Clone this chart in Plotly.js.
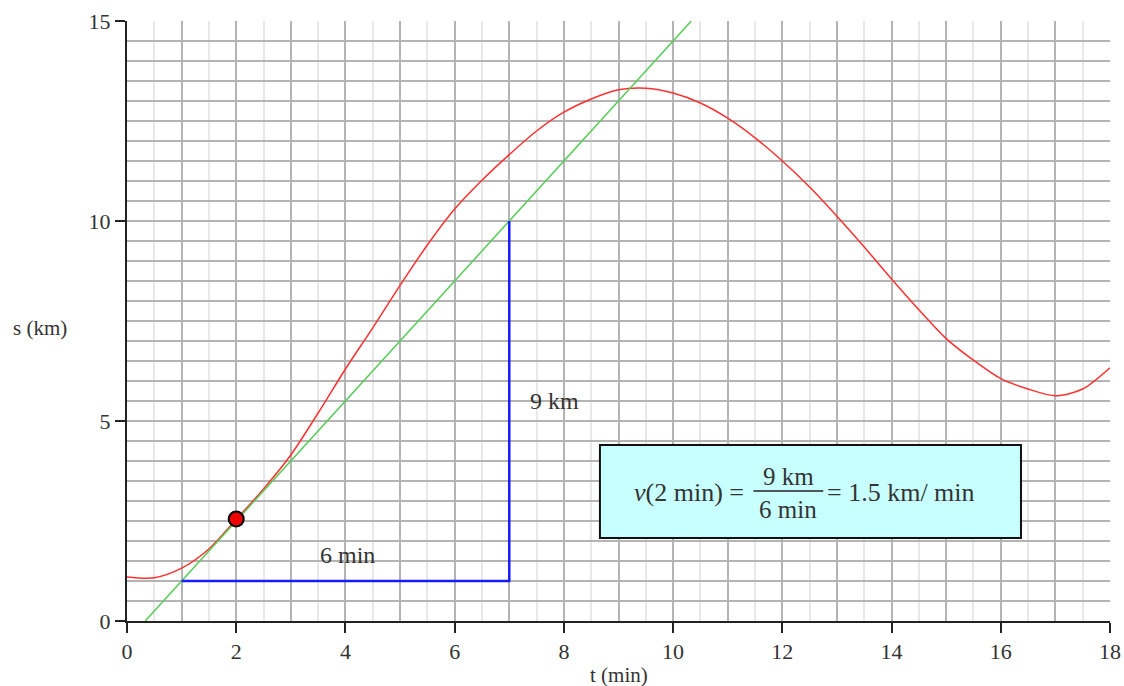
<!DOCTYPE html>
<html>
<head>
<meta charset="utf-8">
<script src="https://cdn.plot.ly/plotly-3.0.1.min.js"></script>
<style>html,body{margin:0;padding:0;background:#fff;}#chart{width:1124px;height:686px;}</style>
</head>
<body>
<div id="chart"></div>
<script>
// Position-time curve s(t)
const tValues = [0, 0.5, 1, 1.5, 2, 2.5, 3, 3.5, 4, 4.5, 5, 5.5, 6, 6.5, 7, 7.5, 8, 8.5, 9, 9.5, 10, 10.5, 11, 11.5, 12, 12.5, 13, 13.5, 14, 14.5, 15, 15.5, 16, 16.5, 17, 17.5, 18];
const sValues = [1.1, 1.08, 1.32, 1.8, 2.54, 3.3, 4.15, 5.2, 6.3, 7.33, 8.39, 9.4, 10.3, 11.02, 11.66, 12.25, 12.72, 13.05, 13.28, 13.32, 13.2, 12.95, 12.57, 12.08, 11.5, 10.85, 10.12, 9.35, 8.55, 7.78, 7.06, 6.52, 6.06, 5.8, 5.63, 5.8, 6.33];

// Tangent line at t = 2 min
const tangentT = [0.333, 10.333];
const tangentS = [0, 15];

// Slope triangle (6 min run, 9 km rise)
const triangleT = [1, 7, 7];
const triangleS = [1, 1, 10];

// Point of tangency
const pointT = [2];
const pointS = [2.55];

// Labels
const runLabel = '6 min';
const riseLabel = '9 km';
const xTitle = 't (min)';
const yTitle = 's (km)';

const serif = 'Liberation Serif';
const textColor = '#333';
const gridDark = '#b4b4b4';
const gridLight = '#e8e8e8';

const traces = [
  {x: [], y: [], xaxis: 'x2', yaxis: 'y2', type: 'scatter', mode: 'lines', hoverinfo: 'skip'},
  {x: tValues, y: sValues, type: 'scatter', mode: 'lines', line: {color: '#ff3030', width: 1.5, shape: 'spline', smoothing: 0.8}, hoverinfo: 'skip'},
  {x: tangentT, y: tangentS, type: 'scatter', mode: 'lines', line: {color: '#55cc55', width: 1.5}, hoverinfo: 'skip'},
  {x: triangleT, y: triangleS, type: 'scatter', mode: 'lines', line: {color: '#1a1aff', width: 2.5}, hoverinfo: 'skip'},
  {x: pointT, y: pointS, type: 'scatter', mode: 'markers', marker: {color: '#ee0000', size: 15, line: {color: '#000', width: 2}}, hoverinfo: 'skip'}
];

const layout = {
  width: 1124, height: 686,
  margin: {l: 127, r: 14, t: 21, b: 65},
  paper_bgcolor: '#fff', plot_bgcolor: '#fff',
  showlegend: false,
  font: {family: serif, size: 22, color: textColor},
  xaxis: {
    range: [0, 18], tickmode: 'linear', tick0: 0, dtick: 2,
    showgrid: true, gridcolor: gridDark, gridwidth: 2,
    minor: {dtick: 0.5, tick0: 0, showgrid: true, gridcolor: gridLight, gridwidth: 2, ticks: ''},
    zeroline: false, showline: true, linecolor: '#222', linewidth: 2,
    ticks: 'outside', ticklen: 10, tickwidth: 2, tickcolor: '#222',
    tickfont: {family: serif, size: 22, color: textColor}, fixedrange: true
  },
  xaxis2: {
    range: [0, 18], overlaying: 'x', anchor: 'y2', tickmode: 'linear', tick0: 0, dtick: 1,
    showgrid: true, gridcolor: gridDark, gridwidth: 2,
    showticklabels: false, ticks: '', zeroline: false, showline: false, fixedrange: true
  },
  yaxis: {
    range: [0, 15], tickmode: 'linear', tick0: 0, dtick: 5,
    showgrid: true, gridcolor: gridDark, gridwidth: 2,
    zeroline: false, showline: true, linecolor: '#222', linewidth: 2,
    ticks: 'outside', ticklen: 10, tickwidth: 2, tickcolor: '#222',
    tickfont: {family: serif, size: 22, color: textColor}, fixedrange: true
  },
  yaxis2: {
    range: [0, 15], overlaying: 'y', anchor: 'x2', tickmode: 'linear', tick0: 0, dtick: 0.5,
    showgrid: true, gridcolor: gridDark, gridwidth: 2,
    showticklabels: false, ticks: '', zeroline: false, showline: false, fixedrange: true
  },
  shapes: [
    {type: 'rect', xref: 'x', yref: 'y', x0: 8.66, x1: 16.37, y0: 2.075, y1: 4.4,
     fillcolor: '#c8ffff', line: {color: '#111', width: 2}, layer: 'above'},
    {type: 'line', xref: 'x', yref: 'y', x0: 11.47, x1: 12.75, y0: 3.25, y1: 3.25,
     line: {color: '#222', width: 1.5}, layer: 'above'}
  ],
  annotations: [
    {text: runLabel, x: 4.03, y: 1.65, xref: 'x', yref: 'y', showarrow: false, font: {family: serif, size: 24, color: textColor}},
    {text: riseLabel, x: 7.34, y: 5.5, xref: 'x', yref: 'y', xanchor: 'left', showarrow: false, font: {family: serif, size: 24, color: textColor}},
    {text: '<i>v</i>(2 min) =', x: 11.33, y: 3.22, xref: 'x', yref: 'y', xanchor: 'right', showarrow: false, font: {family: serif, size: 26, color: textColor}},
    {text: riseLabel, x: 12.11, y: 3.62, xref: 'x', yref: 'y', showarrow: false, font: {family: serif, size: 25, color: textColor}},
    {text: runLabel, x: 12.11, y: 2.8, xref: 'x', yref: 'y', showarrow: false, font: {family: serif, size: 25, color: textColor}},
    {text: '= 1.5 km/ min', x: 12.78, y: 3.22, xref: 'x', yref: 'y', xanchor: 'left', showarrow: false, font: {family: serif, size: 26, color: textColor}},
    {text: yTitle, x: 0, y: 7.33, xref: 'paper', yref: 'y', xanchor: 'right', xshift: -58, showarrow: false, font: {family: serif, size: 21, color: textColor}},
    {text: xTitle, x: 0.5, y: 0, xref: 'paper', yref: 'paper', yanchor: 'middle', yshift: -54, showarrow: false, font: {family: serif, size: 21, color: textColor}}
  ]
};

Plotly.newPlot('chart', traces, layout, {displayModeBar: false});
</script>
</body>
</html>
